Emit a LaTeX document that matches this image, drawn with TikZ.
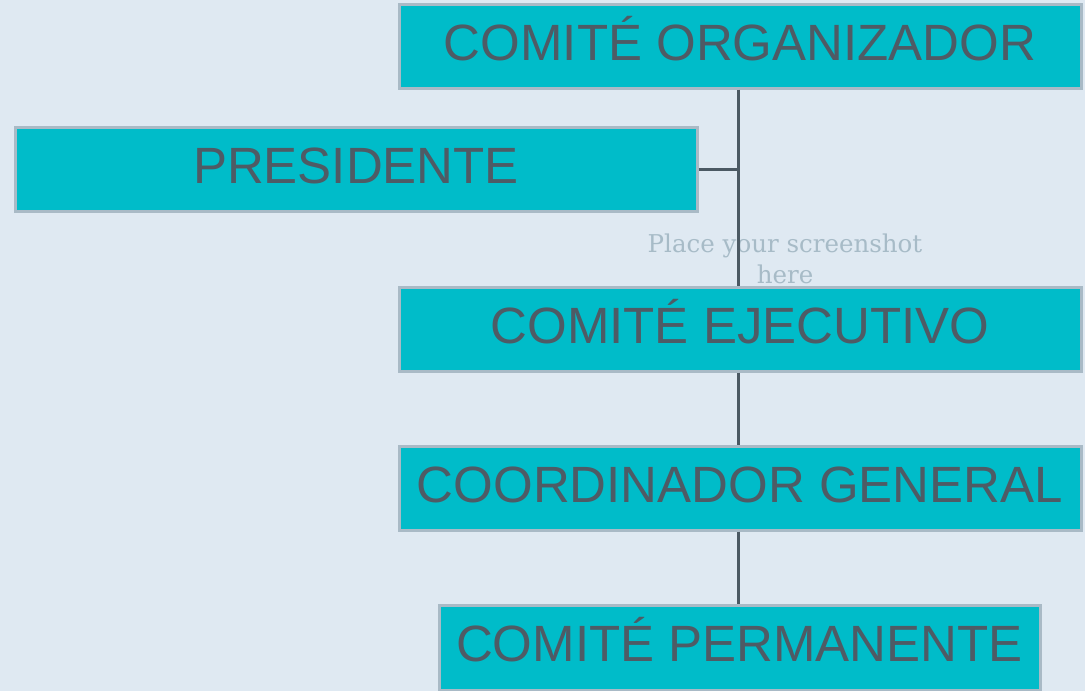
\documentclass[tikz,border=0pt]{standalone}
\usepackage{fontspec}
\setmainfont{Liberation Sans}
\newfontfamily\slabfont{DejaVu Serif}
\definecolor{bg}{HTML}{DFE9F2}
\definecolor{boxfill}{HTML}{00BCC9}
\definecolor{boxedge}{HTML}{A9BAC6}
\definecolor{ink}{HTML}{4E5B65}
\definecolor{linec}{HTML}{4B5963}
\definecolor{ghost}{HTML}{A7BBC7}
\begin{document}
\begin{tikzpicture}[x=1pt,y=-1pt,
  orgbox/.style={rectangle, draw=boxedge, line width=3pt, fill=boxfill,
    minimum width=682pt, minimum height=84pt, inner sep=0pt,
    text=ink, font=\fontsize{51}{51}\selectfont,
    text height=36.5pt, text depth=8.5pt},
  link/.style={draw=linec, line width=3pt}]
\useasboundingbox[fill=bg] (0,0) rectangle (1085,691);
\node[font=\slabfont\fontsize{24.5}{31}\selectfont, text=ghost, align=center, anchor=base] (ph) at (785,283) {Place your screenshot\\here};
\coordinate (spine) at (738,0);
\node[orgbox] (org) at (740,46) {COMITÉ ORGANIZADOR};
\node[orgbox] (pres) at (356,169) {PRESIDENTE};
\node[orgbox] (ejec) at (740,329) {COMITÉ EJECUTIVO};
\node[orgbox] (coord) at (740,488) {COORDINADOR GENERAL};
\node[orgbox, minimum width=601pt, minimum height=85pt] (perm) at (739.5,647.5) {COMITÉ PERMANENTE};
\path[link] (org.south -| spine) -- (ejec.north -| spine);
\path[link] (pres.east) -- (pres.east -| spine);
\path[link] (ejec.south -| spine) -- (coord.north -| spine);
\path[link] (coord.south -| spine) -- (perm.north -| spine);
\end{tikzpicture}
\end{document}
